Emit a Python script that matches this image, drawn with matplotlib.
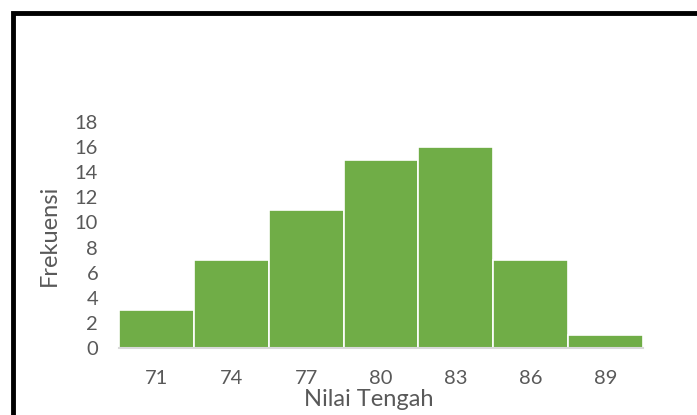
import matplotlib
matplotlib.use("Agg")
import matplotlib.pyplot as plt
from matplotlib.patches import Rectangle

midpoints = ["71", "74", "77", "80", "83", "86", "89"]
frequencies = [3, 7, 11, 15, 16, 7, 1]
y_ticks = [0, 2, 4, 6, 8, 10, 12, 14, 16, 18]

W, H = 697, 415
fig = plt.figure(figsize=(W / 100, H / 100), dpi=100)
plt.rcParams["font.family"] = ["Lato", "DejaVu Sans"]

# axes placement in pixels: left 119, right 643, top 122, bottom 348
ax = fig.add_axes([119 / W, 1 - 348 / H, (643 - 119) / W, (348 - 122) / H])

x = range(len(frequencies))
ax.bar(x, frequencies, width=1.0, color="#70AD47", edgecolor="white", linewidth=1.2)
ax.set_xlim(-0.5, len(frequencies) - 0.5)
ax.set_ylim(0, 18)
ax.set_yticks(y_ticks)
ax.set_xticks(list(x))
ax.set_xticklabels(midpoints)

grey = "#595959"
for s in ["top", "right", "left"]:
    ax.spines[s].set_visible(False)
ax.spines["bottom"].set_color("#D9D9D9")
ax.spines["bottom"].set_linewidth(1.5)
ax.tick_params(axis="both", length=0, colors=grey, labelsize=14.5)
ax.tick_params(axis="y", pad=15)
ax.tick_params(axis="x", pad=16)

ax.set_ylabel("Frekuensi", fontsize=17, color=grey, labelpad=11)
ax.set_xlabel("Nilai Tengah", fontsize=17, color=grey, va="baseline")
ax.xaxis.set_label_coords(0.477, -0.257)

# outer chart frame, running past the right and bottom edges
fig.patches.append(Rectangle((13 / W, -0.2), 2.0, 1 - 13 / H + 0.2,
                             transform=fig.transFigure, fill=False,
                             edgecolor="black", linewidth=3.5))

fig.savefig("out.png", dpi=100)
